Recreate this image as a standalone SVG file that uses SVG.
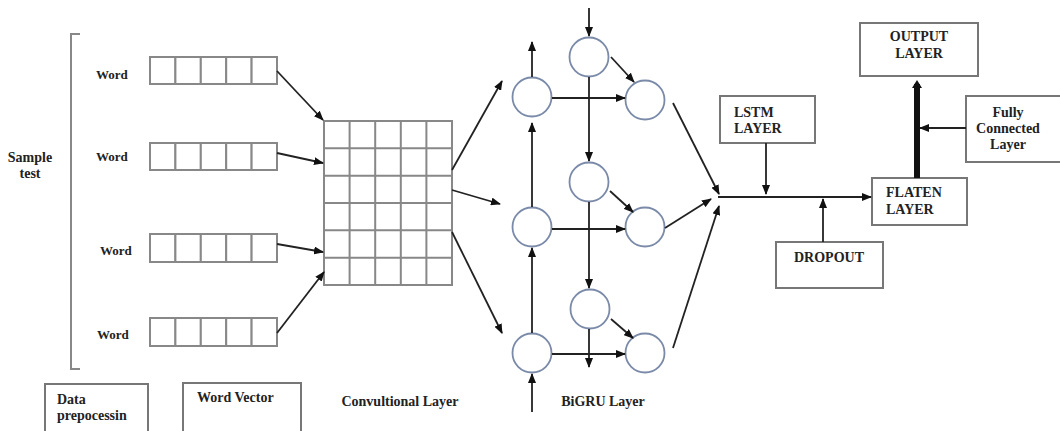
<svg xmlns="http://www.w3.org/2000/svg" width="1060" height="431" viewBox="0 0 1060 431">
<defs>
<marker id="ah" markerWidth="10" markerHeight="8" refX="9" refY="4" orient="auto" markerUnits="userSpaceOnUse">
<path d="M0,0 L10,4 L0,8 Z" fill="#111"/>
</marker>
<marker id="ahb" markerWidth="12" markerHeight="10" refX="4" refY="5" orient="auto" markerUnits="userSpaceOnUse">
<path d="M0,0 L8,5 L0,10 Z" fill="#111"/>
</marker>
</defs>
<style>
text{font-family:"Liberation Serif","Times New Roman",serif;font-weight:bold;font-size:14px;fill:#222}
.w{font-size:13px}
.cell{fill:#fff;stroke:#888;stroke-width:2}
.box{fill:#fff;stroke:#777;stroke-width:2}
.node{fill:#fff;stroke:#7a8aa8;stroke-width:1.8}
.a{stroke:#222;stroke-width:1.8;fill:none;marker-end:url(#ah)}
</style>
<rect width="1060" height="431" fill="#fff"/>

<g id="bracket">
<path d="M80,34 H71 V369 H80" fill="none" stroke="#888" stroke-width="2"/>
<text x="30" y="162" text-anchor="middle">Sample</text>
<text x="30" y="178" text-anchor="middle">test</text>
</g>

<g id="word1">
<text class="w" x="96" y="79">Word</text>
<rect class="cell" x="150" y="57" width="25.4" height="27"/><rect class="cell" x="175.4" y="57" width="25.4" height="27"/><rect class="cell" x="200.8" y="57" width="25.4" height="27"/><rect class="cell" x="226.2" y="57" width="25.4" height="27"/><rect class="cell" x="251.6" y="57" width="25.4" height="27"/>
</g>
<g id="word2">
<text class="w" x="96" y="161">Word</text>
<rect class="cell" x="150" y="143" width="25.4" height="27"/><rect class="cell" x="175.4" y="143" width="25.4" height="27"/><rect class="cell" x="200.8" y="143" width="25.4" height="27"/><rect class="cell" x="226.2" y="143" width="25.4" height="27"/><rect class="cell" x="251.6" y="143" width="25.4" height="27"/>
</g>
<g id="word3">
<text class="w" x="100" y="255">Word</text>
<rect class="cell" x="150" y="234" width="25.4" height="28"/><rect class="cell" x="175.4" y="234" width="25.4" height="28"/><rect class="cell" x="200.8" y="234" width="25.4" height="28"/><rect class="cell" x="226.2" y="234" width="25.4" height="28"/><rect class="cell" x="251.6" y="234" width="25.4" height="28"/>
</g>
<g id="word4">
<text class="w" x="97" y="339">Word</text>
<rect class="cell" x="150" y="318" width="25.4" height="28"/><rect class="cell" x="175.4" y="318" width="25.4" height="28"/><rect class="cell" x="200.8" y="318" width="25.4" height="28"/><rect class="cell" x="226.2" y="318" width="25.4" height="28"/><rect class="cell" x="251.6" y="318" width="25.4" height="28"/>
</g>

<g id="conv">
<rect x="324" y="121" width="128" height="164" fill="#fff" stroke="#888" stroke-width="2"/>
<path d="M349.6,121 V285 M375.2,121 V285 M400.8,121 V285 M426.4,121 V285 M324,148.3 H452 M324,175.7 H452 M324,203 H452 M324,230.3 H452 M324,257.7 H452" stroke="#888" stroke-width="2" fill="none"/>
</g>

<g id="gru">
<circle class="node" cx="532" cy="97" r="19.5"/>
<circle class="node" cx="532" cy="227" r="19.5"/>
<circle class="node" cx="532" cy="353" r="19.5"/>
<circle class="node" cx="589" cy="57" r="19.5"/>
<circle class="node" cx="589" cy="182" r="19.5"/>
<circle class="node" cx="590" cy="309" r="19.5"/>
<circle class="node" cx="645" cy="100" r="19.5"/>
<circle class="node" cx="645" cy="227" r="19.5"/>
<circle class="node" cx="645" cy="353" r="19.5"/>
</g>

<g id="lstm">
<rect class="box" x="720" y="96" width="95" height="47"/>
<text x="734" y="117">LSTM</text>
<text x="734" y="133">LAYER</text>
</g>
<g id="dropout">
<rect class="box" x="776" y="242" width="107" height="46"/>
<text x="829" y="262" text-anchor="middle">DROPOUT</text>
</g>
<g id="flaten">
<rect class="box" x="872" y="178" width="95" height="47"/>
<text x="886" y="197">FLATEN</text>
<text x="886" y="214">LAYER</text>
</g>
<g id="output">
<rect class="box" x="860" y="23" width="118" height="53"/>
<text x="919" y="41" text-anchor="middle">OUTPUT</text>
<text x="919" y="58" text-anchor="middle">LAYER</text>
</g>
<g id="fc">
<rect class="box" x="966" y="96" width="100" height="66"/>
<text x="1008" y="117" text-anchor="middle">Fully</text>
<text x="1008" y="133" text-anchor="middle">Connected</text>
<text x="1008" y="149" text-anchor="middle">Layer</text>
</g>
<g id="dataprep">
<rect class="box" x="45" y="384" width="103" height="52"/>
<text x="57" y="404">Data</text>
<text x="57" y="420">prepocessin</text>
</g>
<g id="wordvector">
<rect class="box" x="183" y="383" width="118" height="52"/>
<text x="197" y="402">Word Vector</text>
</g>
<g id="labels">
<text x="400" y="406" text-anchor="middle">Convultional Layer</text>
<text x="603" y="406" text-anchor="middle">BiGRU Layer</text>
</g>

<g id="connectors">
<line class="a" x1="277" y1="71" x2="323" y2="120"/>
<line class="a" x1="277" y1="153" x2="323" y2="163"/>
<line class="a" x1="277" y1="244" x2="323" y2="252"/>
<line class="a" x1="277" y1="333" x2="324" y2="272"/>
<line class="a" x1="452" y1="170" x2="502" y2="81"/>
<line class="a" x1="452" y1="190" x2="500" y2="204"/>
<line class="a" x1="452" y1="232" x2="502" y2="333"/>
<line class="a" x1="589" y1="8" x2="589" y2="36"/>
<line class="a" x1="532" y1="77" x2="532" y2="42"/>
<line class="a" x1="552" y1="98" x2="625" y2="98"/>
<line class="a" x1="589" y1="77" x2="589" y2="161"/>
<line class="a" x1="611" y1="57" x2="634" y2="82"/>
<line class="a" x1="532" y1="207" x2="532" y2="123"/>
<line class="a" x1="552" y1="229" x2="625" y2="229"/>
<line class="a" x1="589" y1="202" x2="589" y2="288"/>
<line class="a" x1="610" y1="191" x2="633" y2="212"/>
<line class="a" x1="532" y1="333" x2="532" y2="248"/>
<line class="a" x1="552" y1="354" x2="625" y2="354"/>
<line class="a" x1="589" y1="329" x2="589" y2="367"/>
<line class="a" x1="611" y1="319" x2="633" y2="338"/>
<line class="a" x1="532" y1="412" x2="532" y2="374"/>
<line class="a" x1="673" y1="103" x2="719" y2="194"/>
<line class="a" x1="665" y1="228" x2="711" y2="199"/>
<line class="a" x1="673" y1="348" x2="719" y2="206"/>
<line class="a" x1="718" y1="197" x2="871" y2="197"/>
<line class="a" x1="766" y1="143" x2="766" y2="194"/>
<line class="a" x1="823" y1="242" x2="823" y2="199"/>
<line class="a" x1="966" y1="128" x2="920" y2="128"/>
<line x1="917" y1="178" x2="917" y2="84" stroke="#111" stroke-width="6" marker-end="url(#ahb)"/>
</g>
</svg>
